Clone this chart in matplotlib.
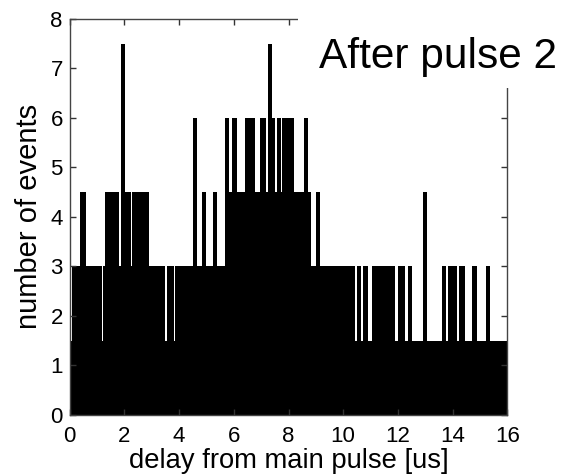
import matplotlib.pyplot as plt
from matplotlib.patches import Rectangle

plt.rcParams['font.family'] = ['Liberation Sans', 'DejaVu Sans']

# 轮廓: 各段边界 (us) 与事件数
edges = [0.00, 0.09, 0.37, 0.58, 1.18, 1.22, 1.28, 1.80, 1.86, 2.03,
         2.25, 2.29, 2.88, 3.50, 3.54, 3.82, 3.86, 4.51, 4.66, 4.82,
         4.98, 5.25, 5.40, 5.69, 5.83, 5.93, 6.10, 6.42, 6.78, 6.95,
         7.18, 7.24, 7.40, 7.52, 7.58, 7.72, 7.78, 8.19, 8.55, 8.71,
         8.84, 9.00, 9.16, 10.43, 10.49, 10.65, 10.72, 10.91, 11.07, 11.89,
         12.01, 12.26, 12.38, 12.52, 12.92, 13.07, 13.60, 13.76, 13.82, 14.15,
         14.24, 14.45, 14.73, 14.90, 15.21, 15.36, 16.00]
counts = [1.5, 3, 4.5, 3, 1.5, 3, 4.5, 3, 7.5, 4.5,
          3, 4.5, 3, 1.5, 3, 1.5, 3, 6, 3, 4.5,
          3, 4.5, 3, 6, 4.5, 6, 4.5, 6, 4.5, 6,
          4.5, 7.5, 6, 4.5, 6, 4.5, 6, 4.5, 6, 4.5,
          3, 4.5, 3, 1.5, 3, 1.5, 3, 1.5, 3, 1.5,
          3, 1.5, 3, 1.5, 4.5, 1.5, 3, 1.5, 3, 1.5,
          3, 1.5, 3, 1.5, 3, 1.5]
x_ticks = list(range(0, 17, 2))
y_ticks = list(range(0, 9))

W, H = 561, 474
fig = plt.figure(figsize=(W / 100, H / 100), dpi=100)
ax = fig.add_axes([69.8 / W, 1 - 414.8 / H, (507.2 - 69.8) / W, (414.8 - 18.8) / H])

ax.stairs(counts, edges, fill=True, color='black', linewidth=0)

ax.set_xlim(0, 16)
ax.set_ylim(0, 8)
ax.set_xticks(x_ticks)
ax.set_yticks(y_ticks)
for s in ax.spines.values():
    s.set_color('#444444')
    s.set_linewidth(1.0)
ax.tick_params(direction='in', top=True, right=True, length=4, width=1,
               color='#333333', labelsize=16)
ax.tick_params(axis='x', pad=8)
ax.tick_params(axis='y', pad=5)
ax.set_xlabel('delay from main pulse [us]', fontsize=19.7, labelpad=1)
ax.set_ylabel('number of events', fontsize=21, labelpad=5)

# 右上角标题遮挡块
fig.add_artist(Rectangle((298 / W, 1 - 88 / H), 1, 88 / H, transform=fig.transFigure,
                         facecolor='white', edgecolor='none', zorder=10))
fig.text(319 / W, 1 - 68.3 / H, 'After pulse 2', fontsize=30.5, ha='left',
         va='baseline', zorder=11)

fig.savefig('out.png', dpi=100)
